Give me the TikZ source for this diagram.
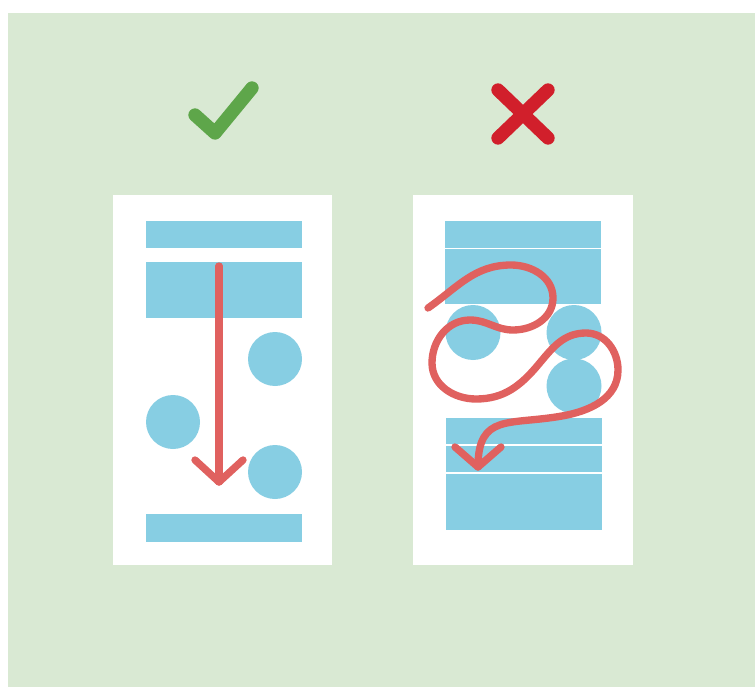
\documentclass[tikz,border=0pt]{standalone}
\usepackage{tikz}
\usetikzlibrary{calc}
\definecolor{bggreen}{RGB}{217,233,211}
\definecolor{boxblue}{RGB}{135,206,227}
\definecolor{pathred}{RGB}{224,97,95}
\definecolor{okgreen}{RGB}{94,166,74}
\definecolor{badred}{RGB}{209,31,43}
\begin{document}
\begin{tikzpicture}[x=0.3mm,y=0.3mm,
  bar/.style={fill=boxblue},
  bubble/.style={fill=boxblue},
  redline/.style={draw=pathred,line width=2.2mm,line cap=round,line join=round},
  signline/.style={line width=4mm,line cap=round,line join=round}]
  \useasboundingbox (0,0) rectangle (755,687);
  \fill[bggreen] (8,0) rectangle (755,674);
  \draw[signline,okgreen] (195,572) -- (215,554) -- (252,599);
  \draw[signline,badred] (498,597) -- (548,549);
  \draw[signline,badred] (548,597) -- (498,549);
  % good page
  \fill[white] (113,122) rectangle (332,492);
  \fill[bar] (146,439) rectangle (302,466);
  \fill[bar] (146,369) rectangle (302,425);
  \fill[bar] (146,145) rectangle (302,173);
  \fill[bubble] (275,328) circle (27);
  \fill[bubble] (173,265) circle (27);
  \fill[bubble] (275,215) circle (27);
  \coordinate (ltop) at (219,421);
  \coordinate (ltip) at (219,205);
  \draw[redline] (ltop) -- (ltip);
  \draw[redline] ($(ltip)+(-24,22)$) -- (ltip) -- ++(24,22);
  % bad page
  \fill[white] (413,122) rectangle (633,492);
  \fill[bar] (445,439) rectangle (601,466);
  \fill[bar] (445,383) rectangle (601,438);
  \fill[bubble] (473,354.5) circle (27.5);
  \fill[bubble] (574,354.5) circle (27.5);
  \fill[bubble] (574,301) circle (27.5);
  \fill[bar] (446,243) rectangle (602,269);
  \fill[bar] (446,215) rectangle (602,241.5);
  \fill[bar] (446,157) rectangle (602,213.5);
  \coordinate (s0) at (428,379);
  \coordinate (s1) at (511,422);
  \coordinate (s2) at (553,389);
  \coordinate (s3) at (513,357);
  \coordinate (s4) at (470,367);
  \coordinate (s5) at (432,324);
  \coordinate (s6) at (476,288);
  \coordinate (s7) at (538,322);
  \coordinate (s8) at (586,354);
  \coordinate (s9) at (618,317);
  \coordinate (s10) at (562,271);
  \coordinate (rtip) at (478,220);
  \draw[redline] (s0) to[out=35,in=180] (s1) to[out=0,in=90] (s2)
    to[out=-90,in=0] (s3) to[out=180,in=0] (s4) to[out=180,in=90] (s5)
    to[out=-90,in=180] (s6) to[out=0,in=230] (s7) to[out=50,in=180] (s8)
    to[out=0,in=90] (s9) to[out=-90,in=10] (s10)
    to[out=190,in=90,looseness=1.4] (rtip);
  \draw[redline] ($(rtip)+(-23,20)$) -- (rtip) -- ++(23,20);
\end{tikzpicture}
\end{document}
